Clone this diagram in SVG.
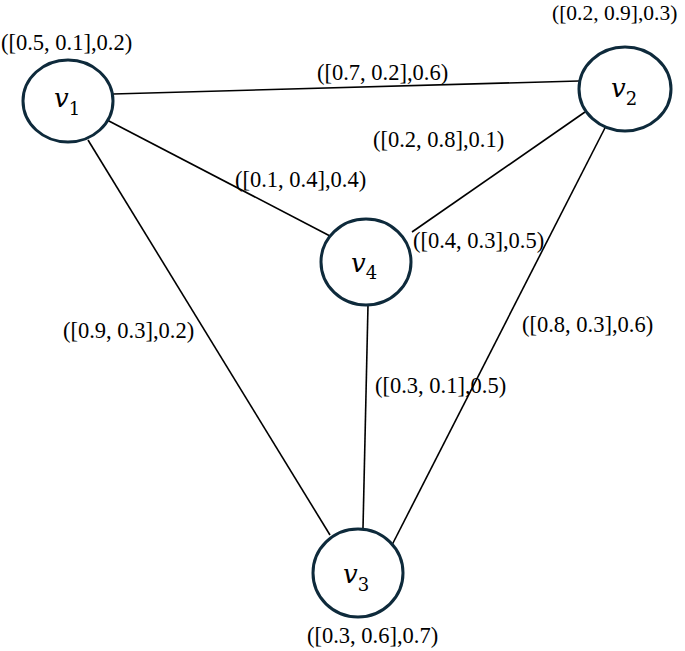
<svg xmlns="http://www.w3.org/2000/svg" width="685" height="651" viewBox="0 0 685 651">
<style>
.node{fill:#fff;stroke:#0e2a3b;stroke-width:3}
.edge{stroke:#000;stroke-width:1.6;fill:none}
</style>
<rect width="685" height="651" fill="#fff"/>
<g id="connectors">
<line class="edge" x1="113" y1="94" x2="579" y2="81"/>
<line class="edge" x1="107" y1="120" x2="330" y2="236"/>
<line class="edge" x1="88" y1="140" x2="330" y2="535"/>
<line class="edge" x1="585" y1="112" x2="412" y2="232"/>
<line class="edge" x1="608" y1="122" x2="392" y2="545"/>
<line class="edge" x1="368" y1="305" x2="363" y2="528"/>
<g font-family="Liberation Serif, Times New Roman, serif" font-size="22.5" fill="#000">
<text x="317" y="80">([0.7, 0.2],0.6)</text>
<text x="373" y="147">([0.2, 0.8],0.1)</text>
<text x="235" y="187">([0.1, 0.4],0.4)</text>
<text x="413" y="248">([0.4, 0.3],0.5)</text>
<text x="63" y="338">([0.9, 0.3],0.2)</text>
<text x="522" y="332">([0.8, 0.3],0.6)</text>
<text x="375" y="393">([0.3, 0.1],0.5)</text>
</g>
</g>
<g id="v1">
<ellipse class="node" cx="68" cy="101" rx="45" ry="41"/>
<text x="54" y="107" font-family="DejaVu Serif, Liberation Serif, serif" font-style="italic" font-size="26" fill="#000">v<tspan font-style="normal" font-size="18" dy="8">1</tspan></text>
<text x="1" y="50" font-family="Liberation Serif, Times New Roman, serif" font-size="22.5" fill="#000">([0.5, 0.1],0.2)</text>
</g>
<g id="v2">
<ellipse class="node" cx="625" cy="89" rx="46" ry="42"/>
<text x="611" y="97" font-family="DejaVu Serif, Liberation Serif, serif" font-style="italic" font-size="26" fill="#000">v<tspan font-style="normal" font-size="18" dy="8">2</tspan></text>
<text x="552" y="20" font-family="Liberation Serif, Times New Roman, serif" font-size="21.5" fill="#000">([0.2, 0.9],0.3)</text>
</g>
<g id="v4">
<ellipse class="node" cx="366" cy="262" rx="45" ry="43"/>
<text x="351" y="272" font-family="DejaVu Serif, Liberation Serif, serif" font-style="italic" font-size="26" fill="#000">v<tspan font-style="normal" font-size="18" dy="7">4</tspan></text>
</g>
<g id="v3">
<ellipse class="node" cx="358" cy="573" rx="45" ry="44"/>
<text x="343" y="583" font-family="DejaVu Serif, Liberation Serif, serif" font-style="italic" font-size="26" fill="#000">v<tspan font-style="normal" font-size="18" dy="8">3</tspan></text>
<text x="307" y="643" font-family="Liberation Serif, Times New Roman, serif" font-size="22.5" fill="#000">([0.3, 0.6],0.7)</text>
</g>
</svg>
